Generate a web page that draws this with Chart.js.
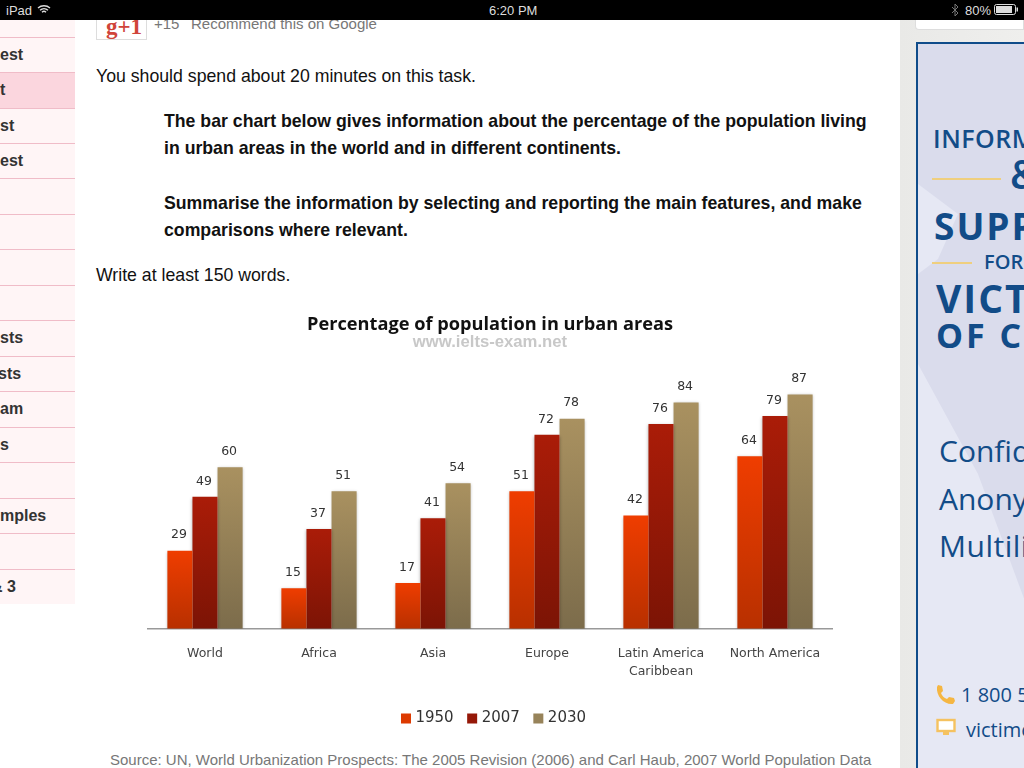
<!DOCTYPE html>
<html><head><meta charset="utf-8">
<script src="https://cdn.jsdelivr.net/npm/chart.js@4"></script>
<style>
html,body{margin:0;padding:0;width:1024px;height:768px;overflow:hidden;background:#fff;font-family:"Liberation Sans",Arial,sans-serif}
.t{position:absolute;white-space:nowrap;line-height:1}
#top{position:absolute;left:0;top:0;width:1024px;height:20px;background:#000;z-index:5;color:#ddd;font-size:13px}
#nav{position:absolute;left:0;top:20px;width:75px;height:584px;background:#fff5f6;overflow:hidden}
.row{position:absolute;left:0;width:75px;border-top:1px solid #f0bcc8;box-sizing:border-box}
#gut{position:absolute;left:900px;top:20px;width:124px;height:748px;background:linear-gradient(90deg,#e9e9e7,#efefed)}
#wbox{position:absolute;left:915px;top:20px;width:109px;height:10px;background:#fff;border:1px solid #ddd;border-top:0;border-left-width:1px;border-radius:0 0 0 4px;box-sizing:border-box}
#ad{position:absolute;left:916px;top:42px;width:108px;height:726px;border:solid #0f4c8a;border-width:2px 0 0 2px;box-sizing:border-box;background:#e6e8f4;overflow:hidden}
#ad .t{font-family:"Open Sans",sans-serif;color:#124c88}
#cv{position:absolute;left:130px;top:305px;width:720px;height:431px;filter:blur(.3px)}
</style></head><body>
<div id="top">
<span class="t" style="left:6px;top:4px;font-size:13px;color:#ddd">iPad</span>
<svg style="position:absolute;left:37px;top:4px" width="14" height="11" viewBox="0 0 14 11"><path d="M1 4a9 9 0 0 1 12 0M3 6.2a6 6 0 0 1 8 0M5 8.2a3 3 0 0 1 4 0" fill="none" stroke="#ddd" stroke-width="1.4"/></svg>
<span class="t" style="left:489px;top:4px;font-size:13px;color:#ddd">6:20 PM</span>
<svg style="position:absolute;left:951px;top:3px" width="8" height="14" viewBox="0 0 8 14"><path d="M1 4l6 6-3 3V1l3 3-6 6" fill="none" stroke="#777" stroke-width="1"/></svg>
<span class="t" style="left:965px;top:4px;font-size:13px;color:#ddd">80%</span>
<svg style="position:absolute;left:994px;top:4px" width="25" height="11" viewBox="0 0 25 11"><rect x=".5" y=".5" width="21" height="10" rx="2" fill="none" stroke="#ddd"/><rect x="2" y="2" width="16" height="7" fill="#ddd"/><rect x="22.5" y="3.5" width="1.5" height="4" fill="#ddd"/></svg>
</div>
<div id="nav"></div>
<div style="position:absolute;left:96px;top:14px;width:51px;height:26px;border:1px solid #ddd;box-sizing:border-box"></div>
<span class="t" style="left:106px;top:14px;font:bold 23px 'Liberation Serif',serif;color:#d0443a;z-index:1">g+1</span>
<span class="t" style="left:154px;top:16px;font-size:15px;color:#777">+15</span>
<span class="t" style="left:191px;top:16px;font-size:15px;color:#777">Recommend this on Google</span>
<span class="t" style="left:96px;top:68px;font-size:17.7px;color:#111">You should spend about 20 minutes on this task.</span>
<span class="t" style="left:164px;top:113px;font-size:17.7px;font-weight:bold;color:#111">The bar chart below gives information about the percentage of the population living</span>
<span class="t" style="left:164px;top:140px;font-size:17.7px;font-weight:bold;color:#111">in urban areas in the world and in different continents.</span>
<span class="t" style="left:164px;top:195px;font-size:17.7px;font-weight:bold;color:#111">Summarise the information by selecting and reporting the main features, and make</span>
<span class="t" style="left:164px;top:222px;font-size:17.7px;font-weight:bold;color:#111">comparisons where relevant.</span>
<span class="t" style="left:96px;top:267px;font-size:17.7px;color:#111">Write at least 150 words.</span>
<canvas id="cv" width="720" height="431"></canvas>
<span class="t" style="left:110px;top:752px;font-size:15px;color:#777">Source: UN, World Urbanization Prospects: The 2005 Revision (2006) and Carl Haub, 2007 World Population Data</span>
<div id="gut"></div><div id="wbox"></div>
<div id="ad">
<svg style="position:absolute;left:0;top:0" width="108" height="726"><polygon points="0,0 108,0 108,560 60,430 0,320 0,230 20,215 40,170 0,140" fill="#dadcec"/></svg>
<span class="t" style="left:15px;top:82px;font-size:25px;font-weight:600;letter-spacing:.5px">INFORMATION</span>
<div style="position:absolute;left:14px;top:134px;width:69px;height:2px;background:#efcf7e"></div>
<span class="t" style="left:92px;top:110px;font-size:40px;font-weight:600">&amp;</span>
<span class="t" style="left:16px;top:163px;font-size:37px;font-weight:700;letter-spacing:2px">SUPPORT</span>
<div style="position:absolute;left:14px;top:218px;width:40px;height:2px;background:#efcf7e"></div>
<span class="t" style="left:66px;top:208px;font-size:20px;font-weight:600">FOR</span>
<span class="t" style="left:18px;top:234px;font-size:39px;font-weight:700;letter-spacing:2px">VICTIMS</span>
<span class="t" style="left:18px;top:274px;font-size:34px;font-weight:700;letter-spacing:3px">OF CRIME</span>
<span class="t" style="left:21px;top:392px;font-size:30px">Confidential</span>
<span class="t" style="left:21px;top:440px;font-size:30px">Anonymous</span>
<span class="t" style="left:21px;top:487px;font-size:30px;letter-spacing:.5px">Multilingual</span>
<svg style="position:absolute;left:17px;top:640px" width="22" height="22" viewBox="0 0 22 22"><path d="M3 1l4 1 1 5-2 2c1 3 3 5 6 6l2-2 5 1 1 3-2 3C9 21 1 12 2 3z" fill="#f5b642"/></svg>
<span class="t" style="left:43px;top:641px;font-size:20px">1 800 555 1234</span>
<svg style="position:absolute;left:18px;top:674px" width="20" height="20" viewBox="0 0 20 20"><rect x="1.5" y="2" width="17" height="11" fill="#fff" stroke="#f5c260" stroke-width="2.4"/><rect x="7" y="14" width="6" height="3" fill="#f5c260"/></svg>
<span class="t" style="left:48px;top:676px;font-size:20px">victimconnect</span>
</div>
<script>
const categories = ["World","Africa","Asia","Europe",["Latin America","Caribbean"],"North America"];
const years = ["1950","2007","2030"];
const values1950 = [29,15,17,51,42,64];
const values2007 = [49,37,41,72,76,79];
const values2030 = [60,51,54,78,84,87];
const colorsTop = ["#ef3d00","#aa1c08","#a99160"];
const colorsBottom = ["#b83000","#7c1405","#7c6c4b"];
const colorsLegend = ["#dd3a00","#951808","#97835a"];
const navLines = [37,72,108,143,178,214,249,285,320,356,391,427,462,498,533,569];
const navLabels = ["est","t","st","est","","","","","sts","sts","am","s","","mples","","& 3"];
const navShift = [0,0,0,0,0,0,0,0,0,-2,0,0,0,0,0,-9];
const nav = document.getElementById('nav');
navLines.forEach((y,i)=>{
  const d=document.createElement('div');d.className='row';d.style.top=(y-20)+'px';
  d.style.height=((navLines[i+1]||604)-y)+'px';
  if(i===1)d.style.background='#fbd6de';
  const s=document.createElement('span');s.className='t';s.textContent=navLabels[i];
  s.style.cssText='left:'+navShift[i]+'px;top:9px;font-size:16px;font-weight:bold;color:#333';
  d.appendChild(s);nav.appendChild(d);
});
function fill(i){
  return function(c){
    if(c.type!=='data'||!c.chart.scales.y) return colorsTop[i];
    const y=c.chart.scales.y;
    const a=y.getPixelForValue(c.raw),b=y.getPixelForValue(0);
    if(!isFinite(a)||!isFinite(b)) return colorsTop[i];
    const g=c.chart.ctx.createLinearGradient(0,a,0,b);
    g.addColorStop(0,colorsTop[i]);g.addColorStop(1,colorsBottom[i]);
    return g;
  };
}
const valueLabels={id:'valueLabels',
  afterLayout(ch){ch.legend.left+=5;ch.legend.right+=5;},
  beforeDatasetsDraw(ch){ch.ctx.save();ch.ctx.shadowColor='rgba(0,0,0,.28)';ch.ctx.shadowBlur=3;ch.ctx.shadowOffsetY=1;},
  afterDatasetsDraw(ch){
    const x=ch.ctx;x.restore();x.save();
    x.font='12.5px "DejaVu Sans"';x.fillStyle='#333';x.textAlign='center';x.textBaseline='middle';
    ch.data.datasets.forEach((d,i)=>ch.getDatasetMeta(i).data.forEach((b,j)=>x.fillText(d.data[j],b.x-1,b.y-15.5)));
    x.restore();
  }};
new Chart(document.getElementById('cv'),{
  type:'bar',
  data:{labels:categories,datasets:[values1950,values2007,values2030].map((v,i)=>({label:years[i],data:v,backgroundColor:fill(i),borderWidth:0,categoryPercentage:0.66,barPercentage:1}))},
  plugins:[valueLabels],
  options:{responsive:false,animation:false,devicePixelRatio:1,
    layout:{padding:{left:18,right:18,top:0,bottom:0}},
    scales:{
      x:{grid:{display:false,drawTicks:false},border:{color:'#999',width:1.5},
         afterFit(s){s.height-=2.5;},
         ticks:{color:'#444',padding:16,font:{family:'"DejaVu Sans"',size:12.5,lineHeight:1.45},maxRotation:0,autoSkip:false}},
      y:{display:false,min:0,max:100}
    },
    plugins:{
      title:{display:true,text:'Percentage of population in urban areas',color:'#111',font:{family:'"Open Sans"',size:18.2,weight:'bold'},padding:{top:9,bottom:-3}},
      subtitle:{display:true,text:'www.ielts-exam.net',color:'#c8c8c8',font:{family:'"Liberation Sans"',size:16.7,weight:'bold'},padding:{top:0,bottom:6.5}},
      legend:{position:'bottom',labels:{usePointStyle:true,boxWidth:4,boxHeight:10,padding:16.5,color:'#333',font:{family:'"DejaVu Sans"',size:15},
        generateLabels(){return years.map((y,i)=>({text:y,datasetIndex:i,fillStyle:colorsLegend[i],strokeStyle:colorsLegend[i],lineWidth:0,pointStyle:'rect',fontColor:'#333'}));}}},
      tooltip:{enabled:false}
    }
  }
});
</script>
</body></html>
